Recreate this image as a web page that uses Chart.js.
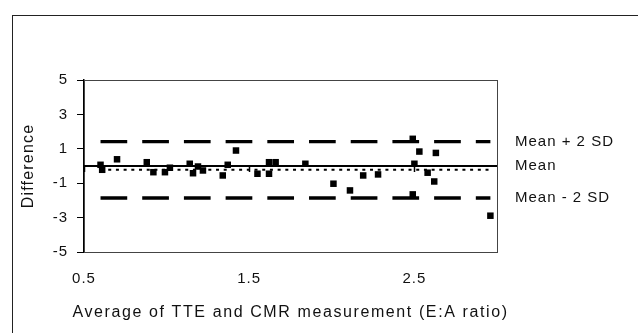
<!DOCTYPE html>
<html>
<head>
<meta charset="utf-8">
<script src="https://cdn.jsdelivr.net/npm/chart.js@4"></script>
<style>
  html, body { margin: 0; padding: 0; background: #fff; overflow: hidden; }
  #wrap { position: relative; width: 638px; height: 333px; }
  #frame { position: absolute; left: 12px; top: 15px; width: 700px; height: 400px;
           border: 1px solid #222; pointer-events: none; }
</style>
</head>
<body>
<div id="wrap">
  <canvas id="baChart" width="638" height="333"></canvas>
  <div id="frame"></div>
</div>
<script>
// Bland-Altman: average vs difference
const avgValues = [0.60, 0.61, 0.70, 0.88, 0.92, 0.99, 1.02, 1.14, 1.16, 1.19, 1.22,
                   1.34, 1.37, 1.42, 1.55, 1.62, 1.62, 1.66, 1.84, 2.01, 2.11, 2.19,
                   2.28, 2.49, 2.53, 2.63, 2.50, 2.58, 2.62, 2.49, 2.96];
const diffValues = [0.07, -0.22, 0.39, 0.22, -0.36, -0.36, -0.10, 0.13, -0.42, -0.03, -0.26,
                    -0.55, 0.07, 0.90, -0.45, -0.45, 0.22, 0.22, 0.13, -1.03, -1.42, -0.55,
                    -0.49, 1.58, 0.84, 0.76, 0.13, -0.39, -0.90, -1.65, -2.89];
const meanDiff = -0.22;
const limits = [1.42, -1.86];           // mean + 2 SD, mean - 2 SD
const xTicks = [0.5, 1.5, 2.5];
const yTicks = [5, 3, 1, -1, -3, -5];
const sideLabels = ['Mean + 2 SD', 'Mean', 'Mean - 2 SD'];
const sideLabelValues = [limits[0], 0, limits[1]];
const xTitle = 'Average of TTE and CMR measurement (E:A ratio)';
const yTitle = 'Difference';

const xFrom = Math.min(...avgValues);
const xTo = Math.max(...avgValues);

const FONT = 'Arial, "Liberation Sans", sans-serif';

const extras = {
    id: 'extras',
    beforeLayout(chart) { chart.ctx.letterSpacing = '1px'; },
    beforeDraw(chart) { chart.ctx.letterSpacing = '1px'; },
    beforeDatasetsDraw(chart) {
        const {ctx, chartArea: a, scales: {x, y}} = chart;
        ctx.save();
        // plot frame
        ctx.strokeStyle = '#444';
        ctx.lineWidth = 1;
        ctx.strokeRect(a.left + 0.5, a.top + 0.5, a.right - a.left, a.bottom - a.top);
        // horizontal axis crossing at zero
        const y0 = y.getPixelForValue(0);
        ctx.strokeStyle = '#000';
        ctx.lineWidth = 2;
        ctx.beginPath();
        ctx.moveTo(a.left, y0);
        ctx.lineTo(a.right, y0);
        ctx.stroke();
        ctx.beginPath();
        xTicks.forEach(v => {
            const px = Math.round(x.getPixelForValue(v)) + 0.5;
            ctx.moveTo(px, y0);
            ctx.lineTo(px, y0 + 6);
        });
        ctx.lineWidth = 1.5;
        ctx.stroke();
        ctx.restore();
    },
    afterDraw(chart) {
        const {ctx, chartArea: a, scales: {y}} = chart;
        ctx.save();
        ctx.fillStyle = '#111';
        ctx.textBaseline = 'middle';
        // labels for the reference lines
        ctx.letterSpacing = '1px';
        ctx.font = '15px ' + FONT;
        ctx.textAlign = 'left';
        sideLabels.forEach((t, i) => {
            ctx.fillText(t, a.right + 18, y.getPixelForValue(sideLabelValues[i]));
        });
        // axis titles
        ctx.font = '16px ' + FONT;
        ctx.textAlign = 'center';
        ctx.letterSpacing = '1.6px';
        ctx.fillText(xTitle, (a.left + a.right) / 2, 313);
        ctx.translate(29, (a.top + a.bottom) / 2);
        ctx.rotate(-Math.PI / 2);
        ctx.letterSpacing = '1.2px';
        ctx.fillText(yTitle, 0, 0);
        ctx.restore();
    }
};

const ctx = document.getElementById('baChart').getContext('2d');
const baChart = new Chart(ctx, {
    type: 'scatter',
    data: {
        datasets: [{
            data: avgValues.map((v, i) => ({x: v, y: diffValues[i]})),
            pointStyle: 'rect',
            pointRadius: 4.6,
            pointBorderWidth: 0,
            backgroundColor: '#000',
            order: 0
        }, {
            type: 'line',
            data: [{x: xFrom, y: limits[0]}, {x: xTo, y: limits[0]}],
            borderColor: '#000',
            borderWidth: 3.3,
            borderDash: [26.7, 15],
            pointRadius: 0,
            order: 1
        }, {
            type: 'line',
            data: [{x: xFrom, y: limits[1]}, {x: xTo, y: limits[1]}],
            borderColor: '#000',
            borderWidth: 3.3,
            borderDash: [26.7, 15],
            pointRadius: 0,
            order: 1
        }, {
            type: 'line',
            data: [{x: xFrom, y: meanDiff}, {x: xTo, y: meanDiff}],
            borderColor: '#000',
            borderWidth: 2,
            borderDash: [3, 4.7],
            pointRadius: 0,
            order: 1
        }]
    },
    options: {
        responsive: false,
        animation: false,
        events: [],
        layout: {
            padding: {top: 80, right: 141, left: 0, bottom: 0}
        },
        plugins: {
            legend: {display: false},
            tooltip: {enabled: false}
        },
        scales: {
            x: {
                type: 'linear',
                min: 0.5,
                max: 3.0,
                afterBuildTicks: (scale) => { scale.ticks = xTicks.map(v => ({value: v})); },
                afterFit: (scale) => { scale.height = 81; },
                grid: {display: false, drawTicks: false},
                border: {display: false},
                ticks: {
                    color: '#111',
                    padding: 18,
                    maxRotation: 0,
                    autoSkip: false,
                    font: {size: 15, family: FONT},
                    callback: (v) => v.toFixed(1)
                },
                title: {display: false}
            },
            y: {
                min: -5,
                max: 5,
                afterBuildTicks: (scale) => { scale.ticks = yTicks.map(v => ({value: v})); },
                afterFit: (scale) => { scale.width = 84; },
                grid: {
                    drawOnChartArea: false,
                    color: '#000',
                    tickLength: 7,
                    lineWidth: 1
                },
                border: {display: true, color: '#000', width: 1.5},
                ticks: {
                    color: '#111',
                    padding: 9,
                    autoSkip: false,
                    font: {size: 15, family: FONT}
                },
                title: {display: false}
            }
        }
    },
    plugins: [extras]
});
</script>
</body>
</html>
